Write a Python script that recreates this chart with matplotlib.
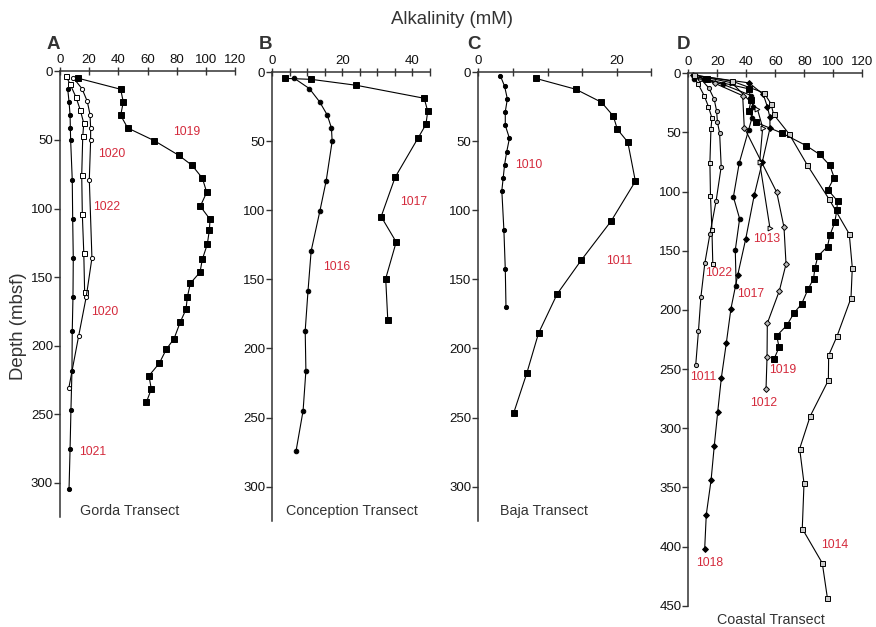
import matplotlib
matplotlib.use("Agg")
import matplotlib.pyplot as plt

plt.rcParams["font.family"] = ["Liberation Sans", "DejaVu Sans"]

# ---- alkalinity (mM) vs depth (mbsf) ----
# Gorda transect
s1019_alk = [12.6, 41.6, 43.4, 41.6, 46.4, 64.7, 81.4, 90.5, 97.6, 100.6, 96.2, 102.9, 102.4, 101.0, 97.6, 96.0,
             89.4, 87.3, 86.4, 82.5, 78.2, 72.9, 68.1, 61.0, 62.6, 59.2]
s1019_dep = [5.1, 13.1, 22.4, 32.1, 41.3, 50.6, 61.2, 68.5, 77.8, 88.2, 98.4, 107.9, 115.9, 126.1, 137.0, 146.5,
             154.5, 164.7, 173.5, 182.7, 194.9, 202.6, 212.8, 221.9, 231.6, 241.3]
s1020_alk = [9.1, 15.1, 18.7, 20.6, 21.0, 21.0, 20.1, 21.9, 18.0, 12.8, 6.0]
s1020_dep = [4.7, 12.7, 21.9, 31.6, 41.3, 50.3, 79.0, 136.1, 164.3, 192.9, 231.1]
s1022_alk = [4.1, 6.9, 11.0, 13.9, 16.3, 15.6, 14.9, 15.3, 16.3, 16.9]
s1022_dep = [3.4, 9.3, 19.0, 28.2, 37.9, 47.4, 75.6, 104.0, 132.2, 161.1]
s1021_alk = [5.3, 6.2, 6.9, 7.1, 7.3, 8.4, 8.7, 9.1, 8.9, 8.4, 8.2, 7.5, 6.9, 6.2]
s1021_dep = [12.9, 22.4, 31.6, 41.3, 50.3, 79.0, 107.4, 136.1, 164.5, 189.1, 218.2, 246.9, 275.5, 304.2]

# Conception transect
s1017_alk = [3.7, 11.1, 24.0, 43.4, 44.4, 43.9, 41.6, 35.1, 31.1, 35.4, 32.4, 33.0]
s1017_dep = [4.4, 5.1, 9.4, 18.8, 28.2, 37.7, 47.8, 76.0, 104.5, 122.9, 149.4, 179.6]
s1016_alk = [6.3, 10.6, 13.5, 15.7, 16.9, 17.1, 15.4, 13.6, 11.1, 10.2, 9.4, 9.6, 8.8, 6.8]
s1016_dep = [4.4, 11.8, 21.3, 30.9, 40.3, 50.0, 78.5, 100.4, 129.4, 158.4, 187.1, 216.1, 245.0, 274.0]

# Baja transect
s1011_alk = [8.3, 14.1, 17.8, 19.5, 20.1, 21.6, 22.7, 19.2, 14.9, 11.4, 8.7, 7.0, 5.1]
s1011_dep = [4.4, 12.3, 21.7, 31.6, 41.3, 50.5, 78.9, 107.7, 135.9, 160.5, 189.0, 218.0, 246.9]
s1010_alk = [3.2, 3.8, 4.2, 3.9, 3.9, 4.5, 4.1, 3.8, 3.6, 3.4, 3.7, 3.9, 4.0]
s1010_dep = [2.7, 10.1, 19.3, 28.5, 38.4, 47.8, 57.7, 66.9, 76.3, 85.7, 114.4, 142.7, 169.7]

# Coastal transect (extra sites)
s1018_alk = [3.0, 41.9, 51.7, 54.5, 56.3, 56.3, 51.0, 45.5, 39.6, 34.1, 29.4, 26.2, 22.8, 20.3, 17.9, 15.7, 12.4, 11.3]
s1018_dep = [1.5, 8.1, 17.8, 28.2, 37.2, 46.5, 75.2, 102.9, 140.0, 170.4, 199.0, 228.2, 257.3, 286.0, 315.0, 344.0,
             373.0, 401.9]
s1013_alk = [4.0, 30.0, 47.6, 51.3, 49.2, 56.3]
s1013_dep = [1.5, 8.0, 29.9, 46.0, 75.2, 130.8]
s1012_alk = [5.0, 18.4, 37.5, 38.6, 61.0, 66.0, 67.4, 62.8, 54.5, 54.3, 53.6]
s1012_dep = [2.0, 8.5, 18.9, 46.0, 100.6, 130.2, 161.2, 183.8, 211.3, 239.8, 266.9]
s1014_alk = [3.9, 29.9, 52.2, 57.0, 58.8, 69.5, 82.1, 97.1, 111.0, 113.1, 112.2, 102.6, 96.8, 96.6, 84.1, 76.8,
             79.8, 78.6, 92.4, 95.9]
s1014_dep = [1.4, 6.5, 16.5, 25.7, 34.7, 51.2, 77.6, 106.4, 135.8, 164.3, 190.0, 222.1, 238.4, 259.5, 289.7,
             317.3, 346.6, 384.9, 414.0, 443.3]

RED = "#d42a3c"
INK = "#333333"
W, H = 876, 627


def SetupAxis(ax, xMax, xStep, xLabStep, yMax, yStep):
  ax.set_xlim(0, xMax)
  ax.set_ylim(yMax, 0)
  ax.xaxis.tick_top()
  ax.set_xticks(range(0, xMax + 1, xStep))
  ax.set_xticklabels([str(v) if v % xLabStep == 0 else "" for v in range(0, xMax + 1, xStep)])
  ax.set_yticks(range(0, int(yMax) + 1, yStep))
  ax.spines["right"].set_visible(False)
  ax.spines["bottom"].set_visible(False)
  for sp in ("top", "left"):
    ax.spines[sp].set_color(INK)
    ax.spines[sp].set_linewidth(1.1)
  ax.tick_params(axis="x", direction="inout", length=6, width=1, color=INK, labelsize=9.5, pad=1, labelcolor="#111111")
  ax.tick_params(axis="y", direction="out", length=4, width=1, color=INK, labelsize=9.5, pad=1, labelcolor="#111111")
  ax.patch.set_visible(False)
  return


def Plot(ax, x, y, mk, ms, fc, lw=0.8):
  ax.plot(x, y, "-", color="black", lw=lw, marker=mk, ms=ms, mfc=fc, mec="black", mew=0.7, clip_on=False)
  return


def Label(ax, x, y, txt):
  ax.text(x, y, txt, color=RED, fontsize=8.8, ha="center", va="center")
  return


fig = plt.figure(figsize=(W / 100, H / 100), dpi=100)

axA = fig.add_axes([60 / W, 1 - 517.2 / H, 175 / W, 445.9 / H])
axB = fig.add_axes([272.3 / W, 1 - 521.1 / H, 157.5 / W, 448.8 / H])
axC = fig.add_axes([478.3 / W, 1 - 521.1 / H, 173 / W, 448.8 / H])
axD = fig.add_axes([688.3 / W, 1 - 605.7 / H, 174 / W, 532.4 / H])

SetupAxis(axA, 120, 20, 20, 325, 50)
SetupAxis(axB, 45, 5, 20, 325, 50)
SetupAxis(axC, 25, 5, 20, 325, 50)
SetupAxis(axD, 120, 20, 20, 450, 50)

# A: Gorda
Plot(axA, s1021_alk, s1021_dep, "o", 3, "black")
Plot(axA, s1022_alk, s1022_dep, "s", 3.6, "white")
Plot(axA, s1020_alk, s1020_dep, "o", 3, "white")
Plot(axA, s1019_alk, s1019_dep, "s", 4.3, "black")
Label(axA, 86.9, 44.0, "1019")
Label(axA, 35.5, 60.3, "1020")
Label(axA, 32.0, 98.7, "1022")
Label(axA, 30.4, 175.2, "1020")
Label(axA, 22.4, 277.7, "1021")

# B: Conception
Plot(axB, s1016_alk, s1016_dep, "o", 3.3, "black")
Plot(axB, s1017_alk, s1017_dep, "s", 4.3, "black")
Label(axB, 40.5, 93.7, "1017")
Label(axB, 18.4, 140.8, "1016")

# C: Baja
Plot(axC, s1010_alk, s1010_dep, "o", 3, "black")
Plot(axC, s1011_alk, s1011_dep, "s", 4.3, "black")
Label(axC, 7.3, 67.1, "1010")
Label(axC, 20.3, 136.6, "1011")

# D: all coastal sites
Plot(axD, s1022_alk, s1022_dep, "s", 3.5, "#dddddd")
Plot(axD, s1011_alk, s1011_dep, "o", 3, "#bbbbbb")
Plot(axD, s1017_alk, s1017_dep, "o", 3.3, "black")
Plot(axD, s1018_alk, s1018_dep, "D", 3, "black")
Plot(axD, s1013_alk, s1013_dep, ">", 3.5, "white")
Plot(axD, s1012_alk, s1012_dep, "D", 3, "#bbbbbb")
Plot(axD, s1014_alk, s1014_dep, "s", 3.6, "#cccccc")
Plot(axD, s1019_alk, s1019_dep, "s", 4.3, "black")
Label(axD, 54.0, 140.3, "1013")
Label(axD, 20.7, 169.1, "1022")
Label(axD, 43.2, 186.8, "1017")
Label(axD, 10.4, 256.9, "1011")
Label(axD, 65.2, 251.0, "1019")
Label(axD, 51.7, 278.9, "1012")
Label(axD, 100.7, 398.7, "1014")
Label(axD, 15.0, 414.2, "1018")

# figure texts
def FigText(px, py, txt, **kw):
  fig.text(px / W, 1 - py / H, txt, ha="center", va="center", color=INK, **kw)
  return

FigText(452, 20, "Alkalinity (mM)", fontsize=13.4)
FigText(19, 326, "Depth (mbsf)", fontsize=13.4, rotation=90)
FigText(53, 44.5, "A", fontsize=13.5, fontweight="bold")
FigText(265, 44.5, "B", fontsize=13.5, fontweight="bold")
FigText(474, 44.5, "C", fontsize=13.5, fontweight="bold")
FigText(684, 44.5, "D", fontsize=13.5, fontweight="bold")
FigText(130, 511, "Gorda Transect", fontsize=10.3)
FigText(351.5, 511, "Conception Transect", fontsize=10.3)
FigText(543.7, 511, "Baja Transect", fontsize=10.3)
FigText(771, 620, "Coastal Transect", fontsize=10.3)

fig.savefig("out.png", dpi=100)
